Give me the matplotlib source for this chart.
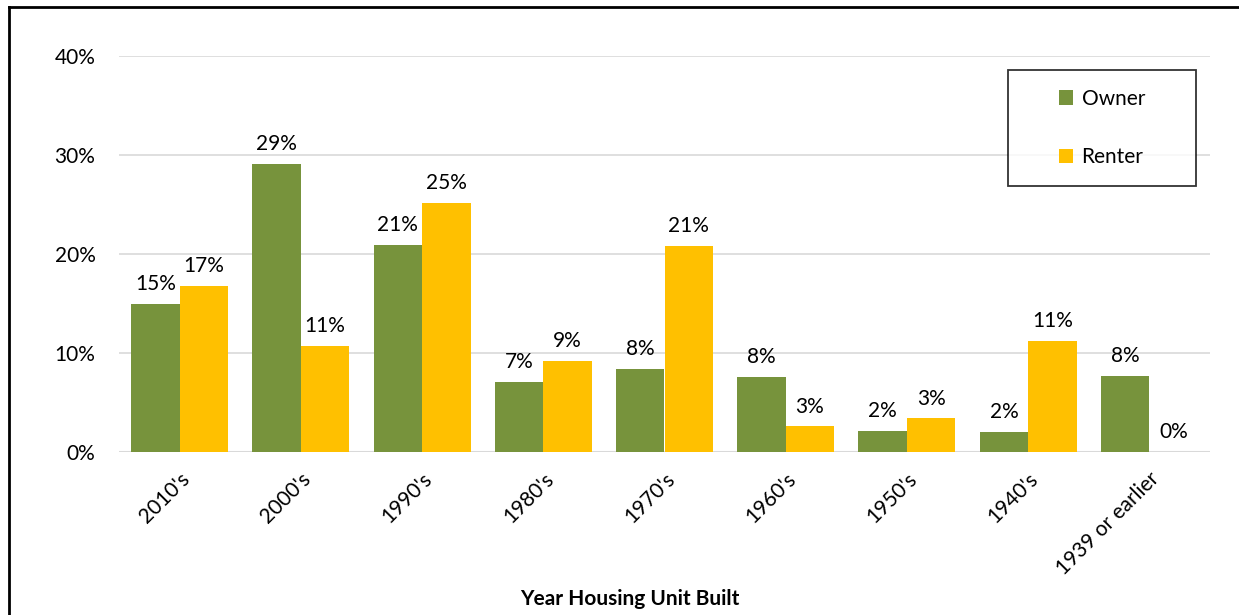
import numpy as np
import matplotlib.pyplot as plt
from matplotlib.lines import Line2D

# Share of housing units by decade built (percent)
CATEGORIES = ["2010's", "2000's", "1990's", "1980's", "1970's",
              "1960's", "1950's", "1940's", "1939 or earlier"]
OWNER = [15.0, 29.1, 20.9, 7.1, 8.4, 7.6, 2.1, 2.0, 7.7]
RENTER = [16.8, 10.7, 25.2, 9.2, 20.8, 2.6, 3.4, 11.2, 0.0]
Y_TICKS = [0, 10, 20, 30, 40]

OWNER_COLOR = "#77933c"
RENTER_COLOR = "#ffc000"
FONT = ["Lato", "DejaVu Sans"]
FS = 15


def main():
    plt.rcParams["font.family"] = FONT
    W, H = 1239, 615
    fig = plt.figure(figsize=(W / 100, H / 100), dpi=100, facecolor="white")
    ax = fig.add_axes([119 / W, 1 - 452 / H, (1210 - 119) / W, (452 - 56) / H])

    x = np.arange(len(CATEGORIES))
    width = 0.4
    b1 = ax.bar(x - width / 2, OWNER, width, color=OWNER_COLOR, label="Owner", zorder=2)
    b2 = ax.bar(x + width / 2, RENTER, width, color=RENTER_COLOR, label="Renter", zorder=2)

    # value labels above bars
    for bars, vals in ((b1, OWNER), (b2, RENTER)):
        for rect, v in zip(bars, vals):
            ax.annotate(f"{v:.0f}%", (rect.get_x() + rect.get_width() / 2, v),
                        xytext=(0, 7), textcoords="offset points",
                        ha="center", va="bottom", fontsize=FS, color="#000")

    ax.set_xlim(-0.5, len(CATEGORIES) - 0.5)
    ax.set_ylim(0, 40)
    ax.set_yticks(Y_TICKS)
    ax.set_yticklabels([f"{t}%" for t in Y_TICKS], fontsize=FS)
    ax.tick_params(axis="y", length=0, pad=17)
    ax.tick_params(axis="x", length=0, pad=12)
    ax.set_xticks(x)
    ax.set_xticklabels(CATEGORIES, rotation=45, ha="right", rotation_mode="anchor",
                       fontsize=FS)
    ax.yaxis.grid(True, color="#d9d9d9", lw=1.2, zorder=0)
    ax.set_axisbelow(True)
    for s in ax.spines.values():
        s.set_visible(False)
    ax.axhline(0, color="#d9d9d9", lw=1.5, zorder=1)

    ax.set_xlabel("Year Housing Unit Built", fontsize=FS, fontweight="bold",
                  labelpad=0)
    ax.xaxis.set_label_coords(0.468, -0.345)

    leg = ax.legend(loc="upper left", bbox_to_anchor=((1008 - 119) / (1210 - 119),
                    1 - (70 - 56) / (452 - 56)),
                    frameon=True, fancybox=False, edgecolor="black",
                    fontsize=FS, handlelength=0.7, handleheight=0.7,
                    labelspacing=1.85, borderpad=0.9, handletextpad=0.4,
                    borderaxespad=0)
    leg.get_frame().set_linewidth(1.3)
    leg._legend_box.align = "center"
    leg._legend_box.set_width(150)

    # outer border (top and left visible)
    fig.add_artist(Line2D([9 / W, 9 / W], [0, 1 - 7 / H], transform=fig.transFigure,
                          color="black", lw=2))
    fig.add_artist(Line2D([9 / W, 1], [1 - 7 / H, 1 - 7 / H], transform=fig.transFigure,
                          color="black", lw=2))

    fig.savefig("out.png", dpi=100, facecolor="white")


if __name__ == "__main__":
    main()
